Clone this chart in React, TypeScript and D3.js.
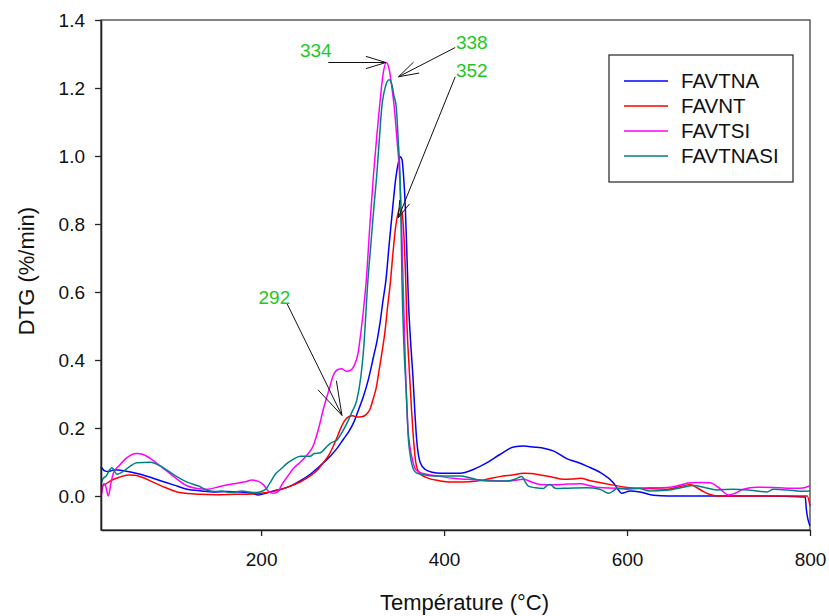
import React, { useEffect, useRef } from "react";
import * as d3 from "d3";

const width = 829;
const height = 616;
const margin = { top: 20, right: 19, bottom: 86, left: 101 };
const font = "'Liberation Sans', Arial, Helvetica, sans-serif";

// [temperature °C, DTG %/min]
const favtna = [
  [25, 0.086], [29, 0.074], [33, 0.072], [40, 0.077], [50, 0.074], [68, 0.064], [90, 0.045],
  [105, 0.032], [119, 0.02], [135, 0.015], [148, 0.012], [162, 0.013], [177, 0.012], [190, 0.008],
  [197, 0.003], [205, 0.008], [213.6, 0.015], [222, 0.02], [232, 0.029], [243, 0.045], [253.7, 0.064],
  [265, 0.09], [275.6, 0.117], [283, 0.14], [290, 0.167], [296, 0.19], [301, 0.215], [306, 0.25],
  [312, 0.294], [317, 0.34], [323, 0.411], [327, 0.46], [330, 0.509], [333, 0.57], [336.5, 0.636],
  [340, 0.74], [344, 0.852], [347, 0.93], [350, 0.98], [352.1, 0.998], [354, 0.99], [355.5, 0.95],
  [357.6, 0.852], [359.5, 0.7], [361, 0.577], [363.5, 0.45], [366, 0.35], [368, 0.25], [370, 0.167],
  [372, 0.12], [374, 0.098], [379.5, 0.078], [387, 0.07], [396, 0.067], [417.7, 0.067], [432, 0.078],
  [447, 0.098], [461, 0.122], [476, 0.144], [487, 0.147], [498, 0.144], [510, 0.14], [520, 0.132],
  [534, 0.11], [545, 0.1], [556, 0.088], [571, 0.069], [585, 0.039], [590, 0.02], [594, 0.008],
  [603.5, 0.015], [614, 0.012], [629, 0.002], [645, 0.0], [662, 0.0], [700, 0.0], [750, 0.0],
  [794.8, -0.003], [796, -0.039], [800, -0.088],
];

const favnt = [
  [25, 0.029], [30, 0.035], [35, 0.044], [45, 0.055], [55, 0.062], [62, 0.061], [70, 0.055],
  [82.5, 0.04], [95, 0.025], [108, 0.012], [120, 0.007], [133.5, 0.005], [150, 0.004], [170.6, 0.005],
  [190, 0.006], [206.4, 0.01], [220, 0.018], [232, 0.029], [243, 0.042], [253.7, 0.059], [261, 0.075],
  [268, 0.098], [274, 0.12], [279, 0.147], [283, 0.172], [286.5, 0.196], [291, 0.22], [295.6, 0.233],
  [300, 0.236], [305, 0.232], [310, 0.233], [315, 0.24], [319, 0.255], [323, 0.29], [326, 0.32],
  [328.4, 0.36], [332, 0.42], [335.7, 0.49], [338, 0.55], [341, 0.62], [344, 0.71], [347, 0.79],
  [350, 0.835], [352, 0.848], [354, 0.835], [356, 0.77], [358, 0.64], [359.5, 0.5], [362, 0.37],
  [364.5, 0.25], [366.6, 0.167], [369, 0.1], [371, 0.078], [374, 0.065], [381, 0.054], [395, 0.045],
  [406.7, 0.041], [420, 0.041], [436, 0.044], [448, 0.05], [461, 0.057], [475, 0.062], [487, 0.067],
  [495, 0.066], [505, 0.062], [518, 0.056], [530.6, 0.049], [540, 0.05], [549, 0.052], [560, 0.045],
  [571, 0.039], [585, 0.032], [600, 0.025], [620, 0.022], [643.6, 0.02], [655, 0.026], [665, 0.032],
  [669, 0.034], [676, 0.025], [683.6, 0.013], [690, 0.005], [698, 0.0], [720, 0.0], [760, 0.0],
  [797, 0.0], [800, -0.03],
];

const favtsi = [
  [25, 0.0], [26.5, 0.02], [28, 0.036], [30, 0.03], [33, 0.0], [36, 0.04], [38.8, 0.069], [45, 0.09],
  [53.4, 0.113], [64, 0.125], [70, 0.123], [75, 0.117], [90, 0.088], [105, 0.056], [119, 0.03],
  [130, 0.022], [141, 0.02], [155, 0.028], [170, 0.036], [183, 0.042], [190, 0.047], [197, 0.043],
  [203, 0.032], [208, 0.014], [213, 0.008], [218, 0.012], [223, 0.035], [228, 0.054], [235, 0.08],
  [243, 0.1], [250, 0.12], [257, 0.148], [263, 0.2], [268, 0.255], [274, 0.31], [279, 0.355],
  [284, 0.372], [288, 0.374], [293, 0.367], [298, 0.37], [302, 0.385], [306, 0.42], [309, 0.48],
  [312, 0.55], [315, 0.636], [319, 0.8], [323, 0.95], [326.5, 1.06], [329.5, 1.145], [333, 1.235],
  [336.8, 1.275], [340, 1.255], [343, 1.2], [345.5, 1.145], [348.5, 1.05], [351.3, 0.95], [353.5, 0.8],
  [355.5, 0.6], [358, 0.36], [360.5, 0.2], [363, 0.14], [366, 0.1], [369, 0.078], [375, 0.068],
  [381, 0.064], [395, 0.058], [410, 0.052], [425, 0.049], [440, 0.047], [455, 0.045], [472, 0.044],
  [482, 0.048], [487, 0.049], [495, 0.042], [505, 0.034], [520, 0.033], [535, 0.035], [549, 0.036],
  [560, 0.03], [569, 0.025], [590, 0.023], [607, 0.023], [625, 0.024], [643, 0.025], [655, 0.03],
  [669, 0.039], [680, 0.04], [691, 0.039], [700, 0.025], [711, 0.003], [718, 0.008], [727, 0.02],
  [742, 0.026], [760, 0.025], [775, 0.023], [789, 0.023], [795, 0.025], [800, 0.03],
];

const favtnasi = [
  [25, 0.034], [27, 0.05], [31, 0.06], [34, 0.075], [37, 0.083], [42.5, 0.064], [49.7, 0.073],
  [57, 0.088], [64, 0.098], [79, 0.099], [90, 0.088], [106, 0.06], [120, 0.04], [131, 0.03],
  [142, 0.016], [150, 0.013], [157, 0.015], [164, 0.011], [172, 0.012], [179, 0.015], [186, 0.012],
  [194, 0.01], [201, 0.014], [205, 0.02], [210, 0.04], [215.5, 0.064], [222, 0.08], [228, 0.095],
  [235, 0.108], [243, 0.117], [253.7, 0.117], [258, 0.125], [264.7, 0.127], [270, 0.14], [275.6, 0.155],
  [283, 0.165], [288, 0.185], [294, 0.215], [299, 0.245], [304.8, 0.284], [309, 0.35], [312, 0.43],
  [316.8, 0.636], [320, 0.74], [323, 0.84], [326.6, 0.95], [329, 1.04], [332, 1.145], [336, 1.205],
  [340, 1.224], [343, 1.21], [345, 1.18], [347.7, 1.145], [350, 1.04], [352, 0.93], [353, 0.8],
  [354, 0.636], [356, 0.45], [358.7, 0.304], [361, 0.167], [363, 0.12], [366.6, 0.078], [370, 0.068],
  [375, 0.064], [388.5, 0.059], [400, 0.059], [417.7, 0.059], [430, 0.052], [443, 0.045], [455, 0.044],
  [468.7, 0.044], [478, 0.05], [485, 0.057], [489, 0.04], [492, 0.029], [500, 0.024], [508.7, 0.022],
  [512, 0.03], [516, 0.034], [520, 0.025], [523, 0.022], [535, 0.023], [556, 0.024], [570, 0.02],
  [580, 0.008], [585, 0.015], [589, 0.022], [600, 0.02], [613, 0.022], [625, 0.015], [643.6, 0.017],
  [660, 0.025], [672.6, 0.031], [685, 0.025], [698, 0.018], [716, 0.02], [735, 0.017], [752.8, 0.012],
  [760, 0.02], [775, 0.018], [790, 0.014], [800, 0.015],
];

const seriesNames = ["FAVTNA", "FAVNT", "FAVTSI", "FAVTNASI"];
const seriesColors = ["#0000ff", "#ff0000", "#ff00ff", "#008080"];
const seriesData = [favtna, favnt, favtsi, favtnasi];

const xTicks = [200, 400, 600, 800];
const yTicks = [0, 0.2, 0.4, 0.6, 0.8, 1.0, 1.2, 1.4];

// peak annotations, in data units
const annotLabels = ["334", "338", "352", "292"];
const annotText = [[242.4, 1.292], [413, 1.314], [413, 1.232], [197.2, 0.565]];
const arrowTail = [[273.4, 1.275], [412.2, 1.319], [412.2, 1.233], [228.3, 0.566]];
const arrowTip = [[336.5, 1.275], [350.2, 1.233], [349.9, 0.818], [288.4, 0.237]];
const arrowHead = [21, 21, 18, 35];

export default function App() {
  const xAxisRef = useRef<SVGGElement>(null);
  const yAxisRef = useRef<SVGGElement>(null);

  const innerW = width - margin.left - margin.right;
  const innerH = height - margin.top - margin.bottom;

  const x = d3.scaleLinear().domain([25, 800]).range([0, innerW]);
  const y = d3.scaleLinear().domain([-0.1, 1.4]).range([innerH, 0]);

  const line = d3
    .line<number[]>()
    .x((d) => x(d[0]))
    .y((d) => y(d[1]))
    .curve(d3.curveMonotoneX);

  useEffect(() => {
    const xAxis = d3.axisBottom(x).tickValues(xTicks).tickSize(6).tickSizeOuter(0).tickPadding(17).tickFormat(d3.format("d"));
    const yAxis = d3.axisLeft(y).tickValues(yTicks).tickSize(6).tickSizeOuter(0).tickPadding(10).tickFormat(d3.format(".1f"));
    const gx = d3.select(xAxisRef.current!).call(xAxis);
    const gy = d3.select(yAxisRef.current!).call(yAxis);
    [gx, gy].forEach((g) => {
      g.attr("font-family", font).attr("font-size", 19);
      g.select(".domain").attr("stroke", "#222").attr("stroke-width", 1.6);
      g.selectAll(".tick line").attr("stroke", "#222").attr("stroke-width", 1.3);
      g.selectAll(".tick text").attr("fill", "#111");
    });
  }, []);

  const arrowPath = (i: number) => {
    const [tx, ty] = [x(arrowTail[i][0]), y(arrowTail[i][1])];
    const [hx, hy] = [x(arrowTip[i][0]), y(arrowTip[i][1])];
    const ang = Math.atan2(ty - hy, tx - hx);
    const a = (17 * Math.PI) / 180;
    const L = arrowHead[i];
    const w1 = [hx + L * Math.cos(ang + a), hy + L * Math.sin(ang + a)];
    const w2 = [hx + L * Math.cos(ang - a), hy + L * Math.sin(ang - a)];
    return `M${tx},${ty}L${hx},${hy}M${w1[0]},${w1[1]}L${hx},${hy}L${w2[0]},${w2[1]}`;
  };

  return (
    <svg width={width} height={height} style={{ position: "absolute", left: 0, top: 0, background: "#fff" }}>
      <g transform={`translate(${margin.left},${margin.top})`}>
        <rect x={0} y={0} width={innerW} height={innerH} fill="none" stroke="#333" strokeWidth={1.2} />
        {seriesData.map((d, i) => (
          <path key={seriesNames[i]} d={line(d) || ""} fill="none" stroke={seriesColors[i]} strokeWidth={1.5} />
        ))}
        <g ref={xAxisRef} transform={`translate(0,${innerH})`} />
        <g ref={yAxisRef} />

        {annotLabels.map((lab, i) => (
          <g key={lab}>
            <path d={arrowPath(i)} fill="none" stroke="#111" strokeWidth={1} />
            <text x={x(annotText[i][0])} y={y(annotText[i][1])} fill="#1ec81e" fontFamily={font} fontSize={19}>
              {lab}
            </text>
          </g>
        ))}

        <g transform={`translate(${609 - margin.left},${55 - margin.top})`}>
          <rect x={0} y={0} width={184} height={127} fill="#fff" stroke="#222" strokeWidth={1.2} />
          {seriesNames.map((n, i) => (
            <g key={n} transform={`translate(0,${26 + i * 25})`}>
              <line x1={15} x2={59} y1={0} y2={0} stroke={seriesColors[i]} strokeWidth={1.5} />
              <text x={72} y={7.3} fontFamily={font} fontSize={20.5} fill="#111">
                {n}
              </text>
            </g>
          ))}
        </g>

        <text x={innerW / 2 + 9} y={innerH + 80} textAnchor="middle" fontFamily={font} fontSize={22} fill="#111">
          Température (°C)
        </text>
        <text transform={`translate(${-67},${innerH / 2 - 4}) rotate(-90)`} textAnchor="middle" fontFamily={font} fontSize={22} fill="#111">
          DTG (%/min)
        </text>
      </g>
    </svg>
  );
}
